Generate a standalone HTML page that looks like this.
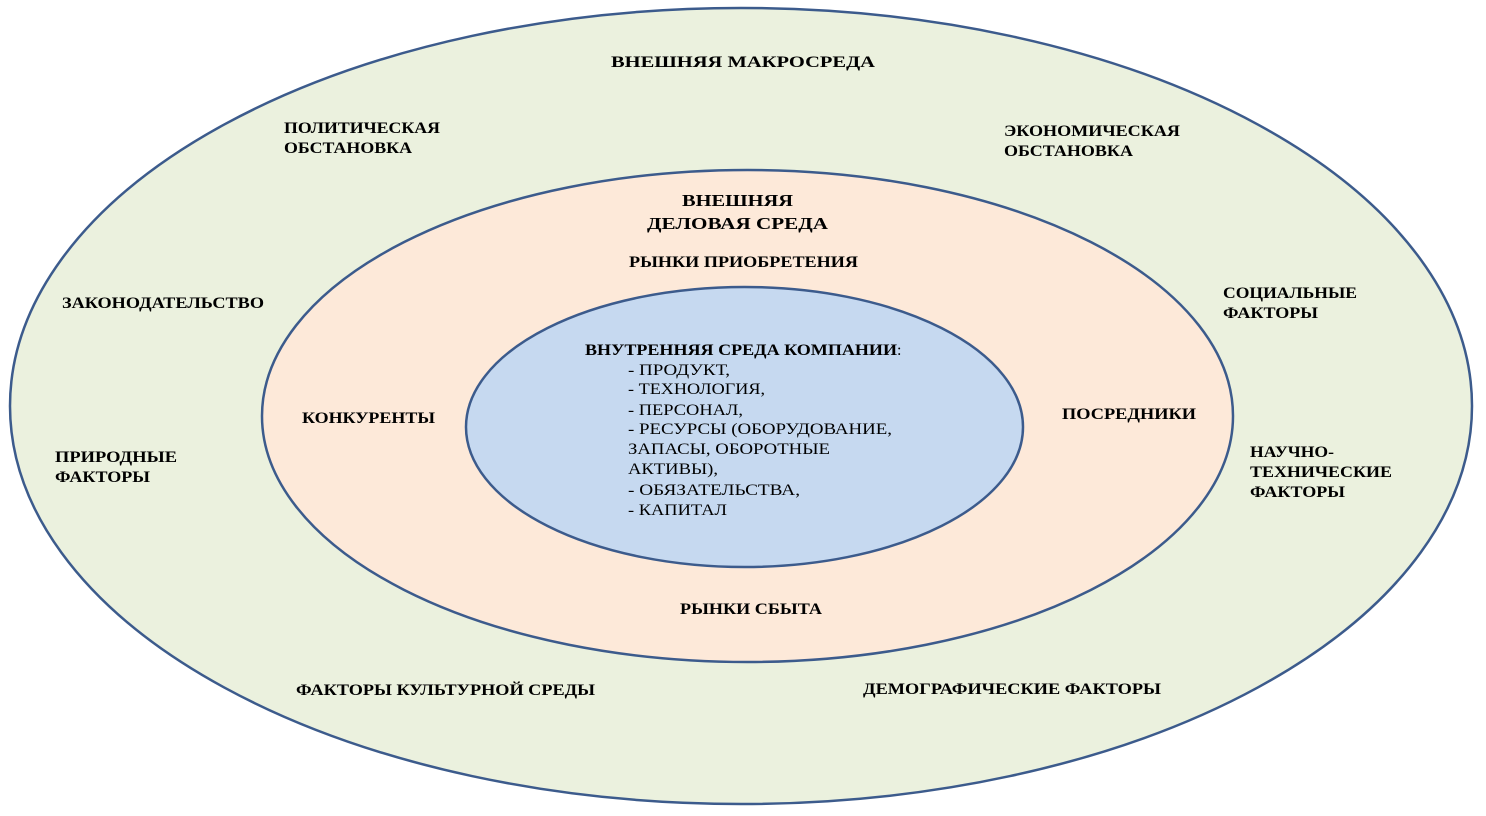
<!DOCTYPE html>
<html><head><meta charset="utf-8"><style>
html,body{margin:0;padding:0;background:#fff;}
svg{display:block}
text{font-family:"Liberation Serif","DejaVu Serif",serif;font-size:16px;font-weight:bold;fill:#000}
.n{font-weight:normal}
</style></head><body>
<svg width="1486" height="816" viewBox="0 0 1486 816">
<ellipse cx="741" cy="406" rx="731" ry="398" fill="#ebf1de" stroke="#3c5b8c" stroke-width="2.5"/>
<ellipse cx="747.5" cy="416" rx="485.5" ry="246" fill="#fde9d9" stroke="#3c5b8c" stroke-width="2.5"/>
<ellipse cx="744.5" cy="427" rx="278.5" ry="140" fill="#c6d9f0" stroke="#3c5b8c" stroke-width="2.5"/>
<g>
<text x="611" y="67" textLength="264" lengthAdjust="spacingAndGlyphs">ВНЕШНЯЯ МАКРОСРЕДА</text>
<text x="284" y="133" textLength="156" lengthAdjust="spacingAndGlyphs">ПОЛИТИЧЕСКАЯ</text>
<text x="284" y="153" textLength="128" lengthAdjust="spacingAndGlyphs">ОБСТАНОВКА</text>
<text x="1004" y="136" textLength="176" lengthAdjust="spacingAndGlyphs">ЭКОНОМИЧЕСКАЯ</text>
<text x="1004" y="156" textLength="129" lengthAdjust="spacingAndGlyphs">ОБСТАНОВКА</text>
<text x="682" y="206" style="font-size:17px" textLength="111" lengthAdjust="spacingAndGlyphs">ВНЕШНЯЯ</text>
<text x="647" y="229" style="font-size:17px" textLength="181" lengthAdjust="spacingAndGlyphs">ДЕЛОВАЯ СРЕДА</text>
<text x="629" y="267" textLength="229" lengthAdjust="spacingAndGlyphs">РЫНКИ ПРИОБРЕТЕНИЯ</text>
<text x="62" y="308" textLength="202" lengthAdjust="spacingAndGlyphs">ЗАКОНОДАТЕЛЬСТВО</text>
<text x="1223" y="298" textLength="134" lengthAdjust="spacingAndGlyphs">СОЦИАЛЬНЫЕ</text>
<text x="1223" y="318" textLength="95" lengthAdjust="spacingAndGlyphs">ФАКТОРЫ</text>
<text x="302" y="423" textLength="133" lengthAdjust="spacingAndGlyphs">КОНКУРЕНТЫ</text>
<text x="1062" y="419" textLength="134" lengthAdjust="spacingAndGlyphs">ПОСРЕДНИКИ</text>
<text x="55" y="462" textLength="122" lengthAdjust="spacingAndGlyphs">ПРИРОДНЫЕ</text>
<text x="55" y="482" textLength="95" lengthAdjust="spacingAndGlyphs">ФАКТОРЫ</text>
<text x="1250" y="457" textLength="84" lengthAdjust="spacingAndGlyphs">НАУЧНО-</text>
<text x="1250" y="477" textLength="142" lengthAdjust="spacingAndGlyphs">ТЕХНИЧЕСКИЕ</text>
<text x="1250" y="497" textLength="95" lengthAdjust="spacingAndGlyphs">ФАКТОРЫ</text>
<text x="680" y="614" textLength="142" lengthAdjust="spacingAndGlyphs">РЫНКИ СБЫТА</text>
<text x="296" y="695" textLength="299" lengthAdjust="spacingAndGlyphs">ФАКТОРЫ КУЛЬТУРНОЙ СРЕДЫ</text>
<text x="863" y="694" textLength="298" lengthAdjust="spacingAndGlyphs">ДЕМОГРАФИЧЕСКИЕ ФАКТОРЫ</text>
<text x="585" y="355" textLength="312" lengthAdjust="spacingAndGlyphs">ВНУТРЕННЯЯ СРЕДА КОМПАНИИ</text>
<text x="897" y="355" class="n">:</text>
<text class="n" x="628" y="375" textLength="102" lengthAdjust="spacingAndGlyphs">- ПРОДУКТ,</text>
<text class="n" x="628" y="394" textLength="137" lengthAdjust="spacingAndGlyphs">- ТЕХНОЛОГИЯ,</text>
<text class="n" x="628" y="415" textLength="115" lengthAdjust="spacingAndGlyphs">- ПЕРСОНАЛ,</text>
<text class="n" x="628" y="434" textLength="264" lengthAdjust="spacingAndGlyphs">- РЕСУРСЫ (ОБОРУДОВАНИЕ,</text>
<text class="n" x="628" y="454" textLength="202" lengthAdjust="spacingAndGlyphs">ЗАПАСЫ, ОБОРОТНЫЕ</text>
<text class="n" x="628" y="474" textLength="90" lengthAdjust="spacingAndGlyphs">АКТИВЫ),</text>
<text class="n" x="628" y="495" textLength="172" lengthAdjust="spacingAndGlyphs">- ОБЯЗАТЕЛЬСТВА,</text>
<text class="n" x="628" y="515" textLength="99" lengthAdjust="spacingAndGlyphs">- КАПИТАЛ</text>
</g>
</svg>
</body></html>
